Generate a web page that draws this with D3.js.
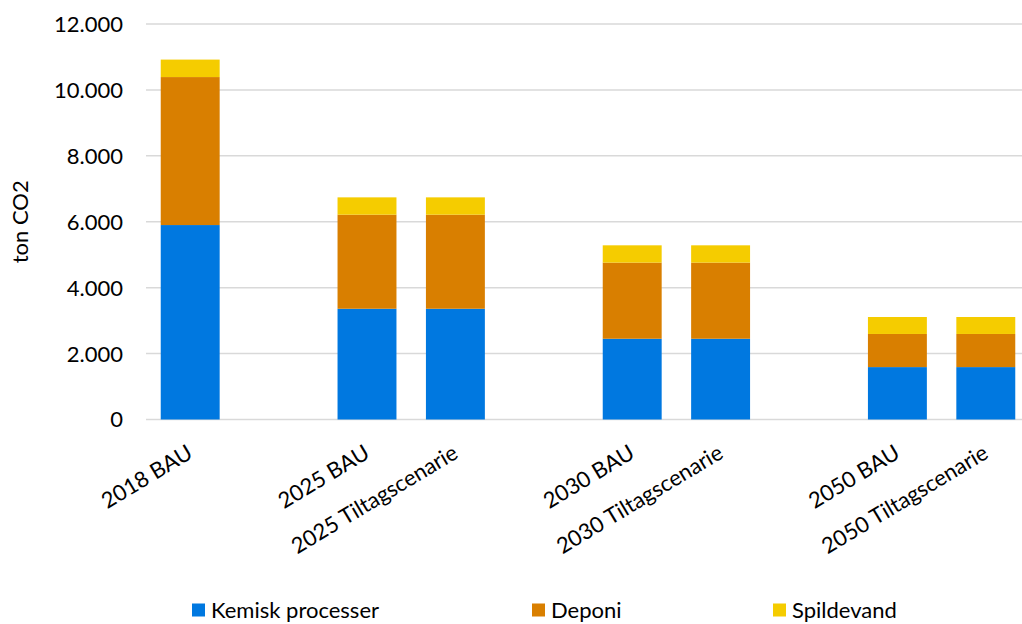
<!DOCTYPE html>
<html>
<head>
<meta charset="utf-8">
<script src="https://cdn.jsdelivr.net/npm/d3@7"></script>
<style>
  html, body { margin: 0; padding: 0; background: #fff; }
  svg { display: block; font-family: Lato, "Open Sans", sans-serif; }
</style>
</head>
<body>
<svg id="chart" width="1022" height="624"></svg>
<script>
// categories (empty strings are the gaps between groups)
const categories = ["2018 BAU", "", "2025 BAU", "2025 Tiltagscenarie", "", "2030 BAU", "2030 Tiltagscenarie", "", "2050 BAU", "2050 Tiltagscenarie"];
const kemisk = [5900, 0, 3360, 3360, 0, 2450, 2450, 0, 1590, 1590];
const deponi = [4490, 0, 2855, 2855, 0, 2310, 2310, 0, 1005, 1005];
const spildevand = [530, 0, 525, 525, 0, 525, 525, 0, 515, 515];
const seriesNames = ["Kemisk processer", "Deponi", "Spildevand"];
const yTicks = [0, 2000, 4000, 6000, 8000, 10000, 12000];

const colors = ["#0078e0", "#d97f00", "#f5cc00"];
const fontSize = 22;

const svg = d3.select("#chart");
const margin = { left: 146, right: 1030, top: 24, bottom: 419.5 };

const rows = categories.map((c, i) => ({ i, k: kemisk[i], d: deponi[i], s: spildevand[i] }));
const stack = d3.stack().keys(["k", "d", "s"])(rows);

const x = d3.scaleBand()
  .domain(d3.range(categories.length))
  .range([margin.left, margin.right])
  .paddingInner(1 / 3)
  .paddingOuter(1 / 6);

const y = d3.scaleLinear()
  .domain([0, 12000])
  .range([margin.bottom, margin.top]);

const fmt = v => d3.format(",")(v).replace(/,/g, ".");

// gridlines
svg.append("g")
  .selectAll("line")
  .data(yTicks)
  .join("line")
  .attr("x1", margin.left)
  .attr("x2", margin.right)
  .attr("y1", d => y(d))
  .attr("y2", d => y(d))
  .attr("stroke", "#d9d9d9")
  .attr("stroke-width", 1.5);

// y tick labels
svg.append("g")
  .selectAll("text")
  .data(yTicks)
  .join("text")
  .attr("x", 123)
  .attr("y", d => y(d))
  .attr("dy", "0.36em")
  .attr("text-anchor", "end")
  .attr("font-size", fontSize)
  .attr("fill", "#000")
  .text(fmt);

// y axis title
svg.append("text")
  .attr("transform", `translate(28, ${(margin.top + margin.bottom) / 2}) rotate(-90)`)
  .attr("text-anchor", "middle")
  .attr("font-size", fontSize)
  .text("ton CO2");

// bars
svg.append("g")
  .selectAll("g")
  .data(stack)
  .join("g")
  .attr("fill", (d, i) => colors[i])
  .selectAll("rect")
  .data(d => d.filter(p => p[1] > p[0]))
  .join("rect")
  .attr("x", d => x(d.data.i))
  .attr("width", x.bandwidth())
  .attr("y", d => y(d[1]))
  .attr("height", d => y(d[0]) - y(d[1]));

// category labels
svg.append("g")
  .selectAll("text")
  .data(categories.map((c, i) => ({ c, i })).filter(d => d.c))
  .join("text")
  .attr("transform", d => `translate(${x(d.i) + x.bandwidth() / 2 + 4}, 457) rotate(-31)`)
  .attr("text-anchor", "end")
  .attr("font-size", fontSize)
  .text(d => d.c);

// legend
const legendX = [192, 532, 773];
const legend = svg.append("g")
  .selectAll("g")
  .data(seriesNames)
  .join("g")
  .attr("transform", (d, i) => `translate(${legendX[i]}, 610)`);
legend.append("rect")
  .attr("x", 0)
  .attr("y", -6.5)
  .attr("width", 13)
  .attr("height", 13)
  .attr("fill", (d, i) => colors[i]);
legend.append("text")
  .attr("x", 19)
  .attr("dy", "0.36em")
  .attr("font-size", fontSize)
  .text(d => d);
</script>
</body>
</html>
